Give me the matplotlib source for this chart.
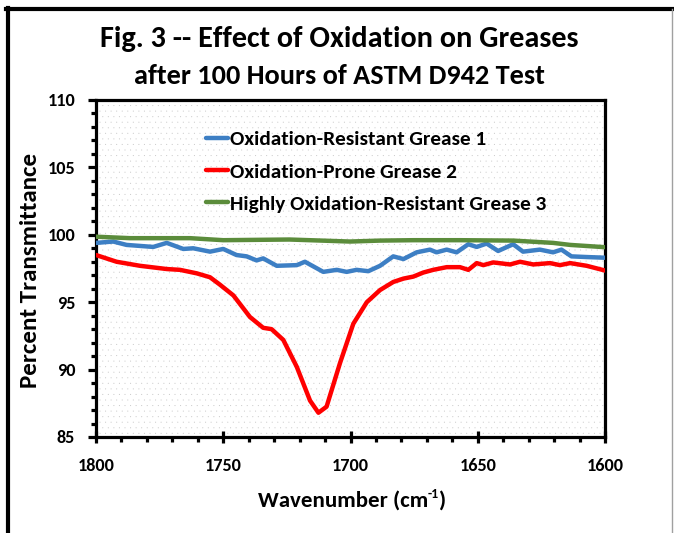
import matplotlib
matplotlib.use("Agg")
import matplotlib.pyplot as plt
from matplotlib import font_manager
from matplotlib.lines import Line2D
from matplotlib.patches import Rectangle
from matplotlib.ticker import MultipleLocator

# ---- data ----
red_w = [1800, 1791.9, 1782.7, 1772.2, 1767, 1760.4, 1755.2, 1751.3, 1746, 1739.5, 1734.3, 1731,
         1726.4, 1721.1, 1715.9, 1712.6, 1709.4, 1704.1, 1698.9, 1693.6, 1688.4, 1683.2, 1679.2,
         1675.3, 1671.4, 1667.5, 1662.2, 1657, 1653.7, 1650.4, 1647.8, 1643.9, 1637.3, 1633.4,
         1628.2, 1621.6, 1617.7, 1613.7, 1607.2, 1600]
red_v = [98.5, 98.0, 97.7, 97.46, 97.4, 97.14, 96.85, 96.3, 95.5, 93.9, 93.1, 93.0,
         92.2, 90.2, 87.7, 86.8, 87.25, 90.5, 93.4, 95.0, 95.9, 96.5, 96.75,
         96.9, 97.2, 97.4, 97.6, 97.6, 97.4, 97.9, 97.75, 97.95, 97.8, 98.0,
         97.8, 97.9, 97.75, 97.9, 97.7, 97.35]

blue_w = [1800, 1793.2, 1788, 1777.5, 1772.2, 1765.7, 1761.8, 1755.2, 1750, 1744.8, 1740.8,
          1736.9, 1734.3, 1729, 1721.1, 1717.9, 1710.7, 1705.4, 1701.5, 1697.6, 1693, 1688.4,
          1683.2, 1679.2, 1674, 1668.8, 1666.2, 1662.2, 1658.3, 1653.7, 1650.4, 1646.5, 1642,
          1636.1, 1632.2, 1625.6, 1620.4, 1617.1, 1613.2, 1607.2, 1600]
blue_v = [99.4, 99.5, 99.25, 99.1, 99.4, 98.95, 99.0, 98.75, 98.95, 98.5, 98.4,
          98.1, 98.25, 97.7, 97.75, 98.0, 97.25, 97.4, 97.25, 97.4, 97.3, 97.7,
          98.4, 98.2, 98.7, 98.9, 98.7, 98.9, 98.7, 99.3, 99.1, 99.35, 98.8,
          99.3, 98.75, 98.9, 98.7, 98.9, 98.4, 98.35, 98.3]

green_w = [1800, 1786.6, 1763, 1750, 1724, 1700.2, 1688.4, 1675.3, 1657, 1636, 1620.4, 1613.7, 1600]
green_v = [99.86, 99.75, 99.75, 99.6, 99.65, 99.5, 99.57, 99.6, 99.6, 99.57, 99.4, 99.25, 99.08]

series_labels = ["Oxidation-Resistant Grease 1", "Oxidation-Prone Grease 2",
                 "Highly Oxidation-Resistant Grease 3"]
series_colors = ["#3d7fc4", "#ff0000", "#5b8c3b"]

title_lines = ["Fig. 3 -- Effect of Oxidation on Greases", "after 100 Hours of ASTM D942 Test"]
x_label_main = "Wavenumber (cm"
x_label_sup = "-1"
y_label = "Percent Transmittance"

# ---- font choice ----
names = {f.name for f in font_manager.fontManager.ttflist}
FAM = "DejaVu Sans"
for cand in ["Carlito", "Lato", "Open Sans"]:
    if cand in names:
        FAM = cand
        break
plt.rcParams["font.family"] = [FAM, "DejaVu Sans"]
plt.rcParams["font.weight"] = "bold"
plt.rcParams["hatch.linewidth"] = 0.0

W, H = 674, 533
fig = plt.figure(figsize=(W / 100, H / 100), dpi=100)
fig.canvas.draw()
R = fig.canvas.get_renderer()


def fit_size(text, target_px, base=12.0):
    t = fig.text(0, 0, text, fontsize=base, fontweight="bold")
    w = t.get_window_extent(R).width
    t.remove()
    return base * target_px / w


fs_title1 = fit_size(title_lines[0], 478)
fs_title2 = 0.5 * (fs_title1 + fit_size(title_lines[1], 383))
fs_tick = fit_size("1800", 37)
fs_leg = fit_size(series_labels[0], 256)
fs_ylab = fit_size(y_label, 235)
fs_xlab = fit_size("Wavenumber (cm", 170)

ax = fig.add_axes([96 / W, 1 - 437 / H, (605 - 96) / W, (437 - 100) / H])

# dotted background
ax.add_patch(Rectangle((0, 0), 1, 1, transform=ax.transAxes, facecolor="white",
                       edgecolor="#c8c8c8", hatch="...", lw=0, zorder=0))

lw = 3.2
ax.plot(blue_w, blue_v, color=series_colors[0], lw=lw, label=series_labels[0],
        solid_joinstyle="round", solid_capstyle="round", zorder=3)
ax.plot(red_w, red_v, color=series_colors[1], lw=lw, label=series_labels[1],
        solid_joinstyle="round", solid_capstyle="round", zorder=3)
ax.plot(green_w, green_v, color=series_colors[2], lw=lw, label=series_labels[2],
        solid_joinstyle="round", solid_capstyle="round", zorder=3)

ax.set_xlim(1800, 1600)
ax.set_ylim(85, 110)
ax.xaxis.set_major_locator(MultipleLocator(50))
ax.xaxis.set_minor_locator(MultipleLocator(10))
ax.yaxis.set_major_locator(MultipleLocator(5))
ax.yaxis.set_minor_locator(MultipleLocator(1))

for s in ax.spines.values():
    s.set_linewidth(2.3)
    s.set_color("black")

ax.tick_params(axis="x", which="major", direction="inout", length=8, width=2.3,
               pad=11, labelsize=fs_tick)
ax.tick_params(axis="x", which="minor", direction="out", length=3.5, width=2.3)
ax.tick_params(axis="y", which="major", direction="out", length=6, width=2.3,
               pad=9, labelsize=fs_tick)
ax.tick_params(axis="y", which="minor", direction="out", length=3.5, width=2.3)
for lab in ax.get_xticklabels() + ax.get_yticklabels():
    lab.set_fontweight("bold")

# x label with small superscript
xl_base = 1 - 507 / H
t1 = fig.text(0, xl_base, x_label_main, fontsize=fs_xlab, fontweight="bold",
              ha="left", va="baseline")
t2 = fig.text(0, xl_base + 9 / H, x_label_sup, fontsize=fs_xlab * 0.6, fontweight="bold",
              ha="left", va="baseline")
t3 = fig.text(0, xl_base, ")", fontsize=fs_xlab, fontweight="bold", ha="left", va="baseline")
w1 = t1.get_window_extent(R).width
w2 = t2.get_window_extent(R).width
w3 = t3.get_window_extent(R).width
x0 = 352 - (w1 + w2 + w3) / 2
t1.set_x(x0 / W)
t2.set_x((x0 + w1) / W)
t3.set_x((x0 + w1 + w2) / W)

fig.text(31 / W, 1 - 270 / H, y_label, rotation=90, ha="center", va="center",
         fontsize=fs_ylab, fontweight="bold")

leg = ax.legend(loc="upper left", bbox_to_anchor=(0.2, 0.935), frameon=False,
                fontsize=fs_leg, handlelength=1.0, handletextpad=0.12, labelspacing=0.68,
                borderaxespad=0)
for t in leg.get_texts():
    t.set_fontweight("bold")

fig.text(339 / W, 1 - 47 / H, title_lines[0], ha="center", va="baseline",
         fontsize=fs_title1, fontweight="bold")
fig.text(339 / W, 1 - 84 / H, title_lines[1], ha="center", va="baseline",
         fontsize=fs_title2, fontweight="bold")

# chart-area border as in the screenshot
fig.add_artist(Line2D([7.5 / W, 7.5 / W], [0, 1 - 8 / H], color="black", lw=3,
                      transform=fig.transFigure))
fig.add_artist(Line2D([6 / W, 672 / W], [1 - 9 / H, 1 - 9 / H], color="black", lw=3,
                      transform=fig.transFigure))
fig.add_artist(Line2D([672 / W, 672 / W], [0, 1 - 9 / H], color="#a0a0a0", lw=1,
                      transform=fig.transFigure))

fig.savefig("out.png", dpi=100)
